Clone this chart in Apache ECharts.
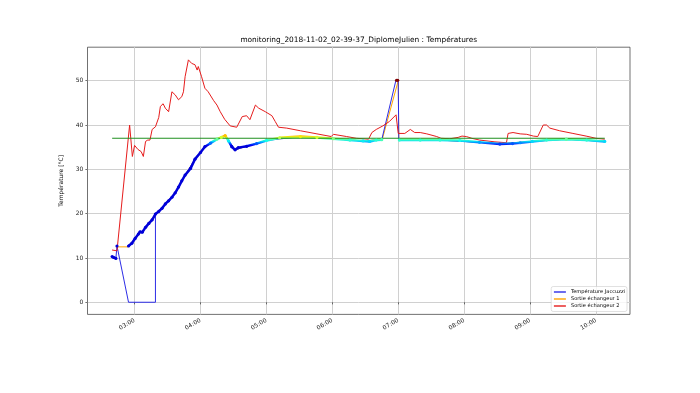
<!DOCTYPE html>
<html><head><meta charset="utf-8">
<script src="https://cdn.jsdelivr.net/npm/echarts@6/dist/echarts.min.js"></script>
<style>html,body{margin:0;padding:0;background:#fff}#c{width:700px;height:393px}</style>
</head><body><div id="c"></div>
<script>
const chartTitle = 'monitoring_2018-11-02_02-39-37_DiplomeJulien : Températures';
const yAxisName = 'Température [°C]';
const seriesNames = ['Température Jaccuzzi', 'Sortie échangeur 1', 'Sortie échangeur 2'];
const xTickHours = [3, 4, 5, 6, 7, 8, 9, 10];
const yTicks = [0, 10, 20, 30, 40, 50];

// Température Jaccuzzi (thin line)
const jacuzziTime = ["02:39:36","02:41:00","02:43:00","02:44:00","02:54:30","03:19:00","03:19:00","03:28:00","03:37:00","03:46:00","03:55:00","04:04:00","04:15:00","04:22:30","04:31:30","04:42:00","05:00:00","05:31:00","06:01:00","06:28:00","06:45:00","06:58:00","07:00:00","07:00:30","07:38:00","08:14:00","08:32:30","09:02:00","09:33:00","10:08:00"];
const jacuzziVal  = [10.3,10.1,9.9,12.7,0,0,19.9,22.2,24.7,28.7,32.3,35.1,36.8,37.6,34.4,35.2,36.5,37.4,36.9,36.4,36.7,50.2,50.2,36.6,36.6,36.1,35.7,36.3,36.8,36.3];

// Température Jaccuzzi (coloured measurement points)
const dotsTime = ["02:39:36","02:41:00","02:43:00","02:43:30","02:44:00","02:50:00","02:54:30","02:57:30","03:00:30","03:03:30","03:05:00","03:07:00","03:10:00","03:13:00","03:16:00","03:19:00","03:22:00","03:25:00","03:28:00","03:31:00","03:34:00","03:37:00","03:40:00","03:43:00","03:46:00","03:51:00","03:55:00","04:00:00","04:04:00","04:09:00","04:15:00","04:19:00","04:22:30","04:25:30","04:28:30","04:31:30","04:34:30","04:42:00","04:51:00","05:00:00","05:12:00","05:31:00","05:46:00","06:01:00","06:16:00","06:28:00","06:34:00","06:40:00","06:45:00","06:50:00","06:58:30","06:59:30","07:00:15","07:01:00","07:20:00","07:38:00","07:56:00","08:14:00","08:32:30","08:44:00","08:51:00","09:02:00","09:15:00","09:33:00","09:51:30","10:08:00"];
const dotsVal  = [10.3,10.1,9.9,null,12.7,null,12.7,13.3,14.4,15.4,15.9,15.8,16.9,17.8,18.6,19.9,20.5,21.2,22.2,22.9,23.7,24.7,26.0,27.4,28.7,30.2,32.3,33.8,35.1,35.9,36.8,37.2,37.6,36.4,35.1,34.4,34.9,35.2,35.8,36.5,37.1,37.4,37.2,36.9,36.6,36.4,36.3,36.6,36.7,null,50.1,50.1,null,36.6,36.6,36.6,36.5,36.1,35.7,35.8,36.0,36.3,36.6,36.8,36.6,36.3];

// Sortie échangeur 1
const ech1Time = ["02:44:00","02:54:30","03:00:30","03:10:00","03:19:00","03:28:00","03:37:00","03:46:00","03:55:00","04:04:00","04:15:00","04:22:30","04:28:30","04:31:30","04:42:00","05:00:00","05:12:00","05:31:00","06:01:00","06:28:00","06:45:30","07:00:00","07:00:30","07:38:00","08:14:00","08:32:30","09:02:00","09:33:00","10:08:00"];
const ech1Val  = [12.5,12.5,14.4,16.9,19.9,22.2,24.7,28.7,32.3,35.1,36.8,37.7,35.2,34.4,35.2,36.5,37.1,37.4,36.9,36.4,36.8,50.0,36.7,36.6,36.1,35.8,36.3,36.8,36.3];

// Sortie échangeur 2
const ech2Time = ["02:39:30","02:44:00","02:55:30","02:58:00","03:00:00","03:03:00","03:06:00","03:08:00","03:10:00","03:12:00","03:14:00","03:16:00","03:19:00","03:20:00","03:22:00","03:23:30","03:26:00","03:28:00","03:31:00","03:34:00","03:37:00","03:40:00","03:43:00","03:44:30","03:46:00","03:49:00","03:52:00","03:55:00","03:57:00","03:58:00","04:01:00","04:04:00","04:07:00","04:12:00","04:15:00","04:18:00","04:22:00","04:27:00","04:33:00","04:38:00","04:42:00","04:45:00","04:50:00","04:53:00","04:59:00","05:05:00","05:08:00","05:11:00","05:18:30","05:31:00","05:46:00","05:59:00","06:01:00","06:13:00","06:22:00","06:33:00","06:36:00","06:40:00","06:46:00","06:52:00","06:58:00","07:00:00","07:01:30","07:06:00","07:11:00","07:15:00","07:20:00","07:26:00","07:35:00","07:39:00","07:47:00","07:54:30","07:58:00","08:02:00","08:07:00","08:14:00","08:28:00","08:38:30","08:40:00","08:44:30","08:51:00","08:57:00","09:03:00","09:07:00","09:12:00","09:15:00","09:18:00","09:27:00","09:39:00","09:51:00","10:00:00","10:08:00"];
const ech2Val  = [11.8,11.6,40.0,32.9,35.4,34.5,34.0,32.9,36.3,36.6,36.6,39.0,39.6,39.3,41.7,44.2,44.8,43.8,43.0,47.5,46.8,45.7,46.4,47.5,50.9,54.7,53.9,53.6,52.4,53.2,50.9,48.3,47.5,45.5,44.5,43.0,41.3,39.8,39.5,41.9,42.1,41.2,44.5,43.8,43.0,42.1,40.8,39.5,39.3,38.7,38.0,37.4,37.9,37.4,37.0,36.8,38.3,39.0,39.8,40.8,42.3,38.1,38.0,38.1,39.0,38.3,38.3,38.0,37.4,37.0,36.9,37.2,37.5,37.4,37.0,36.6,36.2,36.0,38.1,38.3,38.0,37.9,37.5,37.4,40.0,40.0,39.3,38.7,38.1,37.5,37.0,36.8];

// Consigne 37 °C
const setpointTime = ["02:39:36","10:08:00"];
const setpointVal  = [37, 37];

function toH(s) { const p = s.split(':').map(Number); return p[0] + p[1] / 60 + (p[2] || 0) / 3600; }
function pairs(ts, vs) { return ts.map((t, i) => [toH(t), vs[i] == null ? '-' : vs[i]]); }
function fmt(v) { const h = Math.floor(v + 1e-9); const m = Math.round((v - h) * 60); return String(h).padStart(2, '0') + ':' + String(m).padStart(2, '0'); }

// jet-like colour scale for the measurement points
function jet(v) {
  const t = (v - 35.0) / 3.8;
  const c = x => Math.max(0, Math.min(1, x));
  let r, g, b;
  if (t < 0.125) { r = 0; g = 0; b = 0.85; }
  else { const tt = Math.min(1, t); r = c(1.5 - Math.abs(4 * tt - 3)); g = c(1.5 - Math.abs(4 * tt - 2)); b = c(1.5 - Math.abs(4 * tt - 1)); }
  return 'rgb(' + Math.round(r * 255) + ',' + Math.round(g * 255) + ',' + Math.round(b * 255) + ')';
}
const vmMin = -3, vmMax = 58, vmN = 245;
const jetColors = [];
for (let i = 0; i < vmN; i++) jetColors.push(jet(vmMin + (vmMax - vmMin) * i / (vmN - 1)));

const FONT = 'DejaVu Sans';
const titleSize = 7.4;
const plotLeft = 87.5, plotRight = 630;
const mctx = document.createElement('canvas').getContext('2d');
mctx.font = titleSize + 'px "' + FONT + '"';
const titleW = mctx.measureText(chartTitle).width;

const gridCol = '#d0d0d0';
const blueCol = '#2d2de6';
const chart = echarts.init(document.getElementById('c'), null, { renderer: 'canvas' });
chart.setOption({
  animation: false,
  backgroundColor: '#fff',
  textStyle: { fontFamily: FONT },
  title: {
    text: chartTitle, left: (plotLeft + plotRight) / 2 - titleW / 2, top: 36.5, padding: 0,
    textStyle: { fontFamily: FONT, fontSize: titleSize, fontWeight: 'normal', color: '#000' }
  },
  grid: { left: plotLeft, right: 700 - plotRight, top: 47.2, bottom: 78.6, show: true, borderColor: '#333', borderWidth: 0.7, backgroundColor: 'transparent' },
  legend: {
    data: seriesNames, orient: 'vertical', right: 73, bottom: 81.5,
    itemWidth: 12, itemHeight: 5, itemGap: 2,
    padding: [3, 2, 3, 2],
    borderColor: '#cccccc', borderWidth: 0.6, borderRadius: 2, backgroundColor: 'rgba(255,255,255,0.8)',
    lineStyle: { width: 1.4 },
    itemStyle: { opacity: 0 },
    textStyle: { fontFamily: FONT, fontSize: 5.1, color: '#000' }
  },
  visualMap: { type: 'continuous', show: false, seriesIndex: 3, dimension: 1, min: vmMin, max: vmMax, inRange: { color: jetColors } },
  xAxis: {
    type: 'value', min: 2.286, max: 10.516,
    axisLine: { show: false },
    axisTick: { customValues: xTickHours, length: 2.1, lineStyle: { color: '#333', width: 0.7 } },
    axisLabel: { customValues: xTickHours, formatter: fmt, rotate: 30, fontSize: 6, margin: 5.5, color: '#222', fontFamily: FONT },
    splitLine: { show: true, lineStyle: { color: gridCol, width: 1 } }
  },
  yAxis: {
    type: 'value', min: -2.74, max: 57.56,
    name: yAxisName, nameLocation: 'middle', nameGap: 17.5,
    nameTextStyle: { fontSize: 6, color: '#000', fontFamily: FONT },
    axisLine: { show: false },
    axisTick: { show: true, customValues: yTicks, length: 2.1, lineStyle: { color: '#333', width: 0.7 } },
    axisLabel: { customValues: yTicks, fontSize: 6, margin: 4.2, color: '#222', fontFamily: FONT },
    splitLine: { show: true, lineStyle: { color: gridCol, width: 1 } }
  },
  series: [
    { name: seriesNames[1], type: 'line', data: pairs(ech1Time, ech1Val), symbol: 'none', color: '#ffa500', lineStyle: { width: 1, color: '#ffa500' } },
    { name: seriesNames[0], type: 'line', data: pairs(jacuzziTime, jacuzziVal), symbol: 'none', color: blueCol, lineStyle: { width: 1, color: blueCol } },
    { name: seriesNames[2], type: 'line', data: pairs(ech2Time, ech2Val), symbol: 'none', color: '#e61c1c', lineStyle: { width: 1, color: '#e61c1c' } },
    { name: 'points', type: 'line', data: pairs(dotsTime, dotsVal), symbol: 'circle', symbolSize: 3.2, showSymbol: true, showAllSymbol: true, connectNulls: false, lineStyle: { width: 2.5 } },
    { name: 'consigne', type: 'line', data: pairs(setpointTime, setpointVal), symbol: 'none', color: '#1f8f1f', lineStyle: { width: 1.1, color: '#1f8f1f' } }
  ]
});
</script></body></html>
